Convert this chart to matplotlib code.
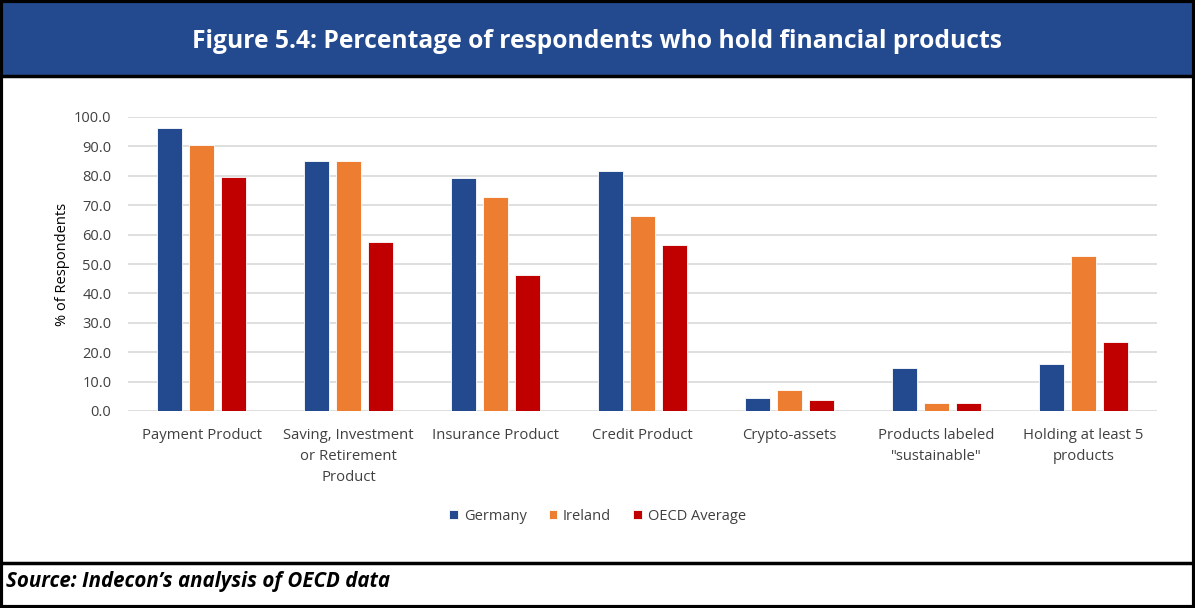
import numpy as np
import matplotlib
matplotlib.use('Agg')
import matplotlib.pyplot as plt
from matplotlib.patches import Rectangle
from matplotlib.lines import Line2D

categories = ['Payment Product', 'Saving, Investment\nor Retirement\nProduct', 'Insurance Product',
              'Credit Product', 'Crypto-assets', 'Products labeled\n"sustainable"',
              'Holding at least 5\nproducts']
germany = [96.1, 85.1, 79.4, 81.7, 4.5, 14.7, 15.9]
ireland = [90.5, 85.1, 72.9, 66.4, 7.3, 2.6, 52.6]
oecd_avg = [79.7, 57.5, 46.1, 56.6, 3.6, 2.6, 23.6]
series_names = ['Germany', 'Ireland', 'OECD Average']
colors = ['#234A8F', '#ED7D31', '#C00000']
yticks = np.arange(0, 101, 10)

plt.rcParams['font.family'] = ['Open Sans', 'DejaVu Sans']

W, H = 1195, 608
fig = plt.figure(figsize=(W / 100, H / 100), dpi=100)

# banner, borders and source line (figure coords)
fig.patches.append(Rectangle((0, 1 - 76 / H), 1, 76 / H, transform=fig.transFigure,
                             facecolor='#234A8F', edgecolor='none', zorder=0))
fig.lines.append(Line2D([0, 1], [1 - 76 / H, 1 - 76 / H], transform=fig.transFigure, color='black', lw=2.5))
fig.lines.append(Line2D([0, 1], [1 - 563 / H, 1 - 563 / H], transform=fig.transFigure, color='black', lw=2.5))
fig.patches.append(Rectangle((0.001, 0.001), 0.998, 0.998, transform=fig.transFigure,
                             facecolor='none', edgecolor='black', lw=3, zorder=5))

fig.text(0.5, 1 - 42 / H, 'Figure 5.4: Percentage of respondents who hold financial products',
         ha='center', va='center', color='white', fontsize=17.7, fontweight='bold')
fig.text(6 / W, 1 - 582 / H, 'Source: Indecon\u2019s analysis of OECD data',
         ha='left', va='center', fontsize=14.8, fontweight='bold', style='italic')

ax = fig.add_axes([128 / W, 1 - 411 / H, (1157 - 128) / W, (411 - 117) / H])
x = np.arange(len(categories))
width = 0.17
step = 0.221
for i, (vals, name, c) in enumerate(zip([germany, ireland, oecd_avg], series_names, colors)):
    ax.bar(x + (i - 1) * step, vals, width, color=c, edgecolor='white', linewidth=0.6,
           label=name, zorder=3)

ax.set_xlim(-0.5, len(categories) - 0.5)
ax.set_ylim(0, 100)
ax.set_yticks(yticks)
ax.set_yticklabels(['%.1f' % v for v in yticks], fontsize=10.5, color='#404040')
ax.set_xticks(x)
ax.set_xticklabels(categories, fontsize=10.7, color='#404040', va='top', linespacing=1.55)
ax.tick_params(axis='both', length=0)
ax.tick_params(axis='y', pad=12)
ax.tick_params(axis='x', pad=12)
ax.grid(axis='y', color='#D9D9D9', lw=1.2, zorder=0)
for s in ax.spines.values():
    s.set_visible(False)
ax.set_ylabel('% of Respondents', fontsize=10.5, color='black', labelpad=3)

ax.legend(loc='center', bbox_to_anchor=(0.5 * (W / 1029) - 128 / 1029, (411 - 516) / 294),
          ncol=3, frameon=False, fontsize=10.5, handlelength=0.6, handleheight=0.6,
          handletextpad=0.4, columnspacing=1.5, labelcolor='#404040')

fig.savefig('out.png', dpi=100)
